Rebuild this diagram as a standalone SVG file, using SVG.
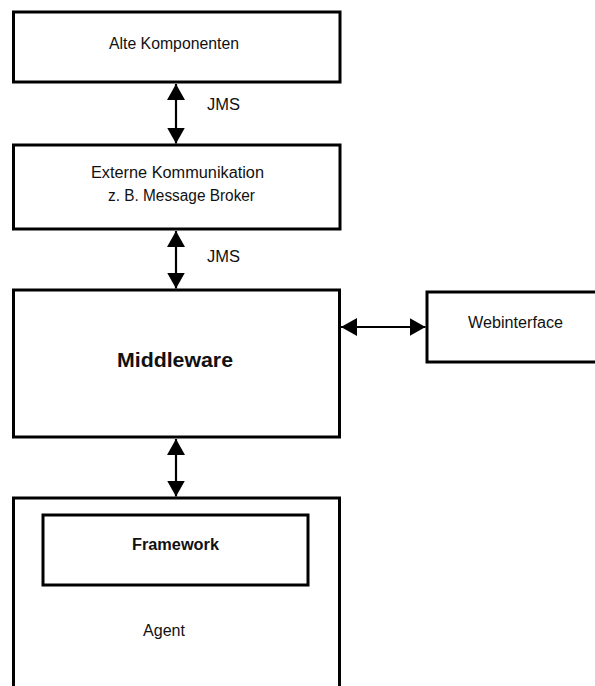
<svg xmlns="http://www.w3.org/2000/svg" width="595" height="686" viewBox="0 0 595 686">
<style>
.box{fill:#fff;stroke:#000;stroke-width:3}
.t{font-family:"Liberation Sans",Arial,sans-serif;font-size:16px;fill:#111}
.b{font-weight:bold}
.c{stroke:#000;stroke-width:2.2;fill:none}
</style>
<defs>
<marker id="ah" viewBox="0 0 16 18" refX="16" refY="9" markerWidth="16" markerHeight="18" markerUnits="userSpaceOnUse" orient="auto-start-reverse">
<path d="M0,0 L16,9 L0,18 z" fill="#000"/>
</marker>
</defs>
<rect width="595" height="686" fill="#fff"/>
<g id="alte">
<rect class="box" x="13.5" y="12" width="326.5" height="70"/>
<text class="t" x="174" y="49" text-anchor="middle" textLength="130" lengthAdjust="spacingAndGlyphs">Alte Komponenten</text>
</g>
<g id="extern">
<rect class="box" x="13.5" y="145" width="326.5" height="84"/>
<text class="t" x="177.5" y="178" text-anchor="middle" textLength="173" lengthAdjust="spacingAndGlyphs">Externe Kommunikation</text>
<text class="t" x="181.5" y="201" text-anchor="middle" textLength="147" lengthAdjust="spacingAndGlyphs">z. B. Message Broker</text>
</g>
<g id="middleware">
<rect class="box" x="13.5" y="290" width="326" height="147"/>
<text class="t b" x="175" y="367" text-anchor="middle" style="font-size:20px" textLength="116" lengthAdjust="spacingAndGlyphs">Middleware</text>
</g>
<g id="webinterface">
<rect class="box" x="427" y="292" width="180" height="70"/>
<text class="t" x="468" y="328" textLength="95" lengthAdjust="spacingAndGlyphs">Webinterface</text>
</g>
<g id="agent">
<rect class="box" x="13.5" y="498" width="326" height="200"/>
<text class="t" x="143" y="636" textLength="42" lengthAdjust="spacingAndGlyphs">Agent</text>
</g>
<g id="framework">
<rect class="box" x="43" y="515" width="265" height="70"/>
<text class="t b" x="132" y="550" textLength="87" lengthAdjust="spacingAndGlyphs">Framework</text>
</g>
<g id="connectors">
<line class="c" x1="176" y1="84" x2="176" y2="143.5" marker-start="url(#ah)" marker-end="url(#ah)"/>
<line class="c" x1="176" y1="231" x2="176" y2="288.5" marker-start="url(#ah)" marker-end="url(#ah)"/>
<line class="c" x1="176" y1="439" x2="176" y2="496.5" marker-start="url(#ah)" marker-end="url(#ah)"/>
<line class="c" x1="341" y1="327" x2="425.5" y2="327" marker-start="url(#ah)" marker-end="url(#ah)"/>
<text class="t" x="207" y="110" textLength="33" lengthAdjust="spacingAndGlyphs">JMS</text>
<text class="t" x="207" y="262" textLength="33" lengthAdjust="spacingAndGlyphs">JMS</text>
</g>
</svg>
